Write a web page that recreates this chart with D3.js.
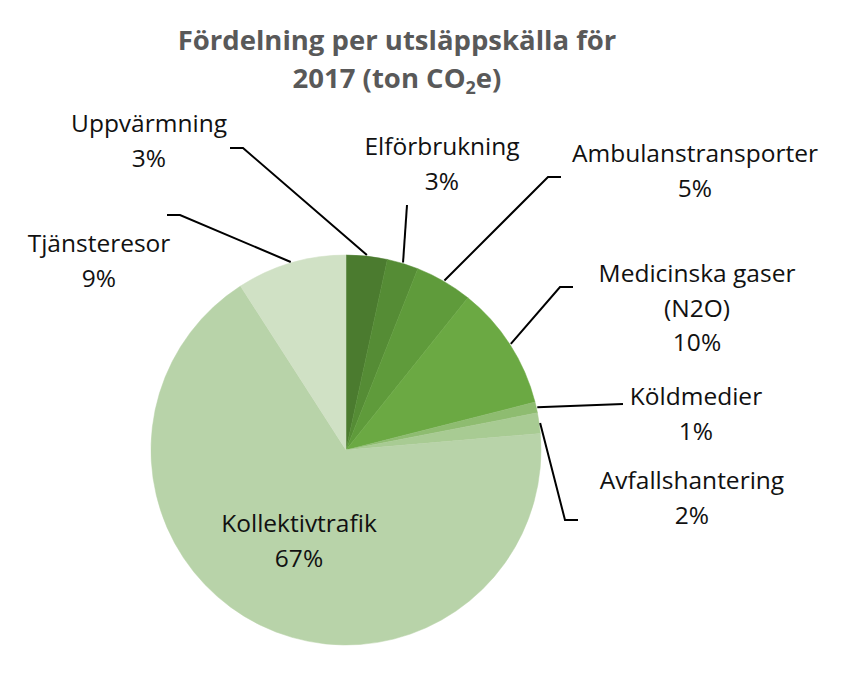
<!DOCTYPE html>
<html>
<head>
<meta charset="utf-8">
<script src="https://cdn.jsdelivr.net/npm/d3@7"></script>
<style>
  body { margin: 0; background: #fff; }
  svg text { font-family: "Open Sans", "Noto Sans", sans-serif; }
</style>
</head>
<body>
<div id="chart"></div>
<script>
// data (share of total, %)
const categories = ["Uppvärmning", "Elförbrukning", "Ambulanstransporter", "Medicinska gaser (N2O)",
    "Köldmedier", "Avfallshantering", "Kollektivtrafik", "Tjänsteresor"];
const values = [3.4, 2.6, 4.75, 10.3, 0.9, 1.7, 67.25, 9.1];
const labelLines = [
    ["Uppvärmning"], ["Elförbrukning"], ["Ambulanstransporter"], ["Medicinska gaser", "(N2O)"],
    ["Köldmedier"], ["Avfallshantering"], ["Kollektivtrafik"], ["Tjänsteresor"]
];
const colors = ["#4b7b2f", "#558c35", "#5f9b3b", "#6ba943", "#8ebc70", "#a8cb93", "#b8d3a9", "#d0e1c5"];

const width = 854, height = 698;
const cx = 346, cy = 450, radius = 195;

// label anchor (centre x, first baseline) and leader elbow for each slice
const labelPos = [
    { x: 149, y: 132, elbow: [230, 148] },
    { x: 442, y: 155, elbow: null, start: [407, 205] },
    { x: 695, y: 162, elbow: [561, 177] },
    { x: 697, y: 282, elbow: [573, 287] },
    { x: 696, y: 405, elbow: null, start: [623, 404] },
    { x: 692, y: 489, elbow: [578, 520] },
    { x: 299, y: 532, inside: true },
    { x: 99, y: 252, elbow: [167, 215] }
];

const svg = d3.select("#chart").append("svg")
    .attr("width", width)
    .attr("height", height);

// title
const title = svg.append("text")
    .attr("x", 397)
    .attr("text-anchor", "middle")
    .attr("font-size", 27.5)
    .attr("font-weight", "bold")
    .attr("fill", "#595959");
title.append("tspan").attr("x", 397).attr("y", 50).text("Fördelning per utsläppskälla för");
const t2 = title.append("tspan").attr("x", 397).attr("y", 88).text("2017 (ton CO");
t2.append("tspan").attr("font-size", 18).attr("dy", 6).text("2");
title.append("tspan").attr("dy", -6).text("e)");

const data = categories.map((c, i) => ({ name: c, value: values[i], i }));

const pie = d3.pie().sort(null).value(d => d.value);
const arcs = pie(data);
const arc = d3.arc().innerRadius(0).outerRadius(radius);

const g = svg.append("g").attr("transform", `translate(${cx},${cy})`);

g.selectAll("path.slice")
    .data(arcs)
    .join("path")
    .attr("class", "slice")
    .attr("d", arc)
    .attr("fill", d => colors[d.data.i])
    .attr("stroke", d => colors[d.data.i])
    .attr("stroke-width", 0.5);

// leader lines: from label side to the slice edge (mid angle)
arcs.forEach(a => {
    const p = labelPos[a.data.i];
    if (p.inside) return;
    const mid = (a.startAngle + a.endAngle) / 2;
    const ex = cx + Math.sin(mid) * (radius + 1);
    const ey = cy - Math.cos(mid) * (radius + 1);
    let pts;
    if (p.elbow) {
        const dir = ex > p.elbow[0] ? 1 : -1;
        pts = [[p.elbow[0], p.elbow[1]], [p.elbow[0] + dir * 13, p.elbow[1]], [ex, ey]];
    } else {
        pts = [p.start, [ex, ey]];
    }
    svg.append("path")
        .attr("d", d3.line()(pts))
        .attr("fill", "none")
        .attr("stroke", "#000")
        .attr("stroke-width", 2);
});

// labels
const fmt = v => Math.round(v) + "%";
arcs.forEach(a => {
    const p = labelPos[a.data.i];
    const lines = labelLines[a.data.i].concat([fmt(a.data.value)]);
    const t = svg.append("text")
        .attr("text-anchor", "middle")
        .attr("font-size", 24.5)
        .attr("fill", "#111");
    lines.forEach((l, k) => {
        t.append("tspan").attr("x", p.x).attr("y", p.y + k * 34.5).text(l);
    });
});
</script>
</body>
</html>
